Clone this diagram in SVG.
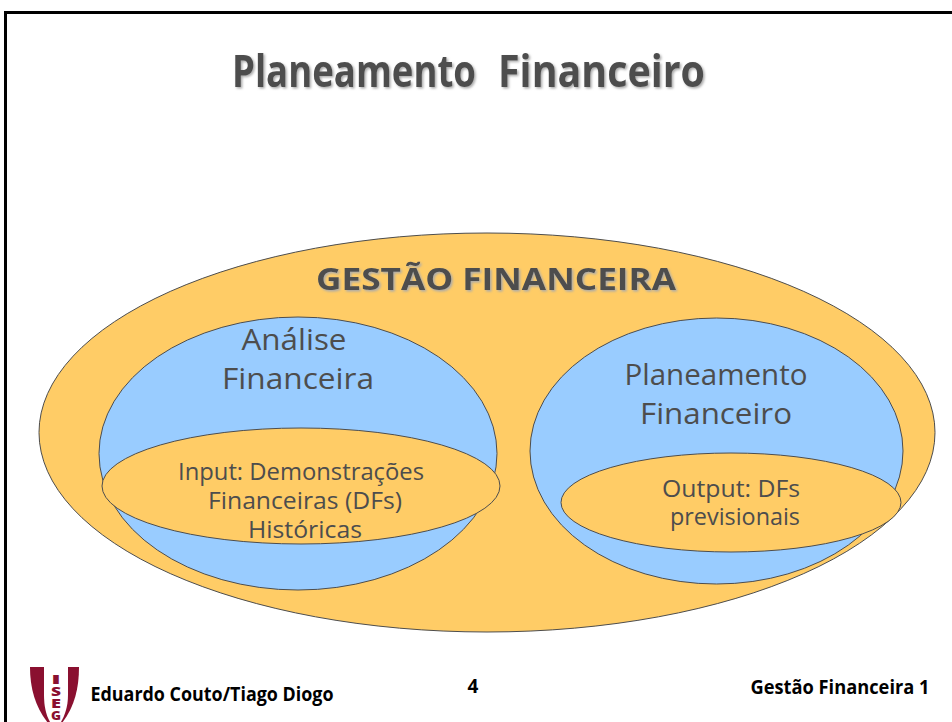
<svg xmlns="http://www.w3.org/2000/svg" width="952" height="722" viewBox="0 0 952 722">
<defs><filter id="sh" x="-5%" y="-20%" width="110%" height="140%"><feDropShadow dx="1.500" dy="1.500" stdDeviation="1" flood-color="#aaaaaa"/></filter></defs>
<style>
text{font-family:"Open Sans","DejaVu Sans",sans-serif;text-anchor:middle;fill:#4d4d4d}
.o{fill:#ffcc66;stroke:#4d4d4d;stroke-width:1}
.b{fill:#99ccff;stroke:#4d4d4d;stroke-width:1}
.t{font-size:45px;font-weight:700;filter:url(#sh)}
.g{font-size:30px;font-weight:700;filter:url(#sh)}
.m{font-size:30px}
.s{font-size:23px}
.f{font-size:19px;font-weight:700;fill:#000}
.l{font-size:13px;font-weight:800;fill:#8a1030}
</style>
<rect id="background" width="952" height="722" fill="#fff"/>
<path id="frame" d="M5.500 722V12.500H952" fill="none" stroke="#000" stroke-width="3"/>
<g id="title">
<text class="t" x="354" y="87" textLength="244" lengthAdjust="spacingAndGlyphs">Planeamento</text>
<text class="t" x="601.500" y="87" textLength="207" lengthAdjust="spacingAndGlyphs">Financeiro</text>
</g>
<g id="gestao">
<ellipse class="o" cx="487" cy="432.500" rx="448" ry="199.500"/>
<text class="g" x="496" y="290" textLength="360" lengthAdjust="spacingAndGlyphs">GESTÃO FINANCEIRA</text>
</g>
<g id="analise">
<ellipse class="b" cx="298" cy="453.500" rx="199" ry="136.500"/>
<text class="m" x="294" y="350" textLength="105" lengthAdjust="spacingAndGlyphs">Análise</text>
<text class="m" x="298" y="389" textLength="152" lengthAdjust="spacingAndGlyphs">Financeira</text>
</g>
<g id="input">
<ellipse class="o" cx="301" cy="486" rx="199" ry="58"/>
<text class="s" x="301" y="480" textLength="246" lengthAdjust="spacingAndGlyphs">Input: Demonstrações</text>
<text class="s" x="305" y="509" textLength="194" lengthAdjust="spacingAndGlyphs">Financeiras (DFs)</text>
<text class="s" x="305" y="538" textLength="114" lengthAdjust="spacingAndGlyphs">Históricas</text>
</g>
<g id="planeamento">
<ellipse class="b" cx="716.500" cy="451" rx="186.500" ry="133"/>
<text class="m" x="716" y="385" textLength="183" lengthAdjust="spacingAndGlyphs">Planeamento</text>
<text class="m" x="716" y="424" textLength="152" lengthAdjust="spacingAndGlyphs">Financeiro</text>
</g>
<g id="output">
<ellipse class="o" cx="731" cy="502.500" rx="170" ry="49.500"/>
<text class="s" x="731" y="497" textLength="138" lengthAdjust="spacingAndGlyphs">Output: DFs</text>
<text class="s" x="735" y="525" textLength="130" lengthAdjust="spacingAndGlyphs">previsionais</text>
</g>
<g id="logo">
<path d="M30 667H79C79 692 73 712 56 730H54C37 712 30 692 30 667Z" fill="#8a1030"/>
<path d="M44 667H68V695C68 706 65 715 61 722H50C46 715 44 706 44 695Z" fill="#fff"/>
<text class="l" x="56" y="683.500" textLength="10" lengthAdjust="spacingAndGlyphs">I</text>
<text class="l" x="56" y="695.500" textLength="10" lengthAdjust="spacingAndGlyphs">S</text>
<text class="l" x="56" y="707.500" textLength="10" lengthAdjust="spacingAndGlyphs">E</text>
<text class="l" x="56" y="719.500" textLength="10" lengthAdjust="spacingAndGlyphs">G</text>
</g>
<g id="footer">
<text class="f" x="212" y="701" textLength="243" lengthAdjust="spacingAndGlyphs">Eduardo Couto/Tiago Diogo</text>
<text class="f" x="473" y="693">4</text>
<text class="f" x="840" y="694" textLength="179" lengthAdjust="spacingAndGlyphs">Gestão Financeira 1</text>
</g>
</svg>
